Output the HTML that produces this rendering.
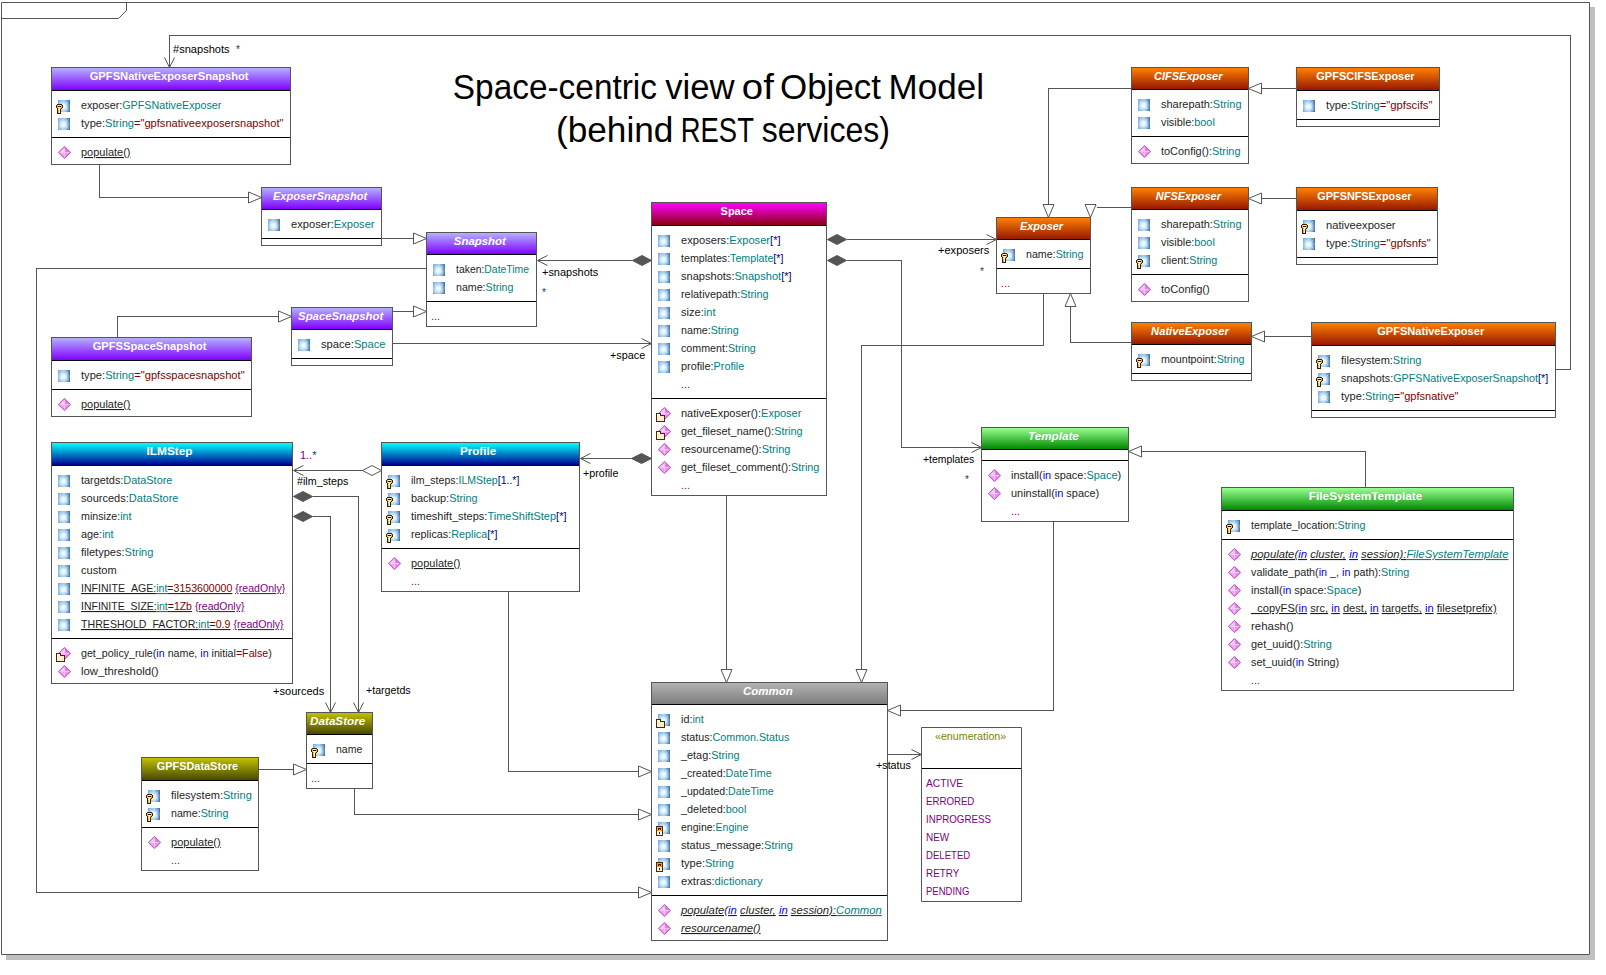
<!DOCTYPE html><html><head><meta charset="utf-8"><style>
html,body{margin:0;padding:0;background:#fff;}
svg{display:block;font-family:"Liberation Sans", sans-serif;font-size:11px;text-decoration-skip-ink:none;}
</style></head><body>
<svg width="1606" height="975" viewBox="0 0 1606 975">
<defs>
<linearGradient id="g_purple" x1="0" y1="0" x2="0" y2="1"><stop offset="0" stop-color="#b4b0ff"/><stop offset="1" stop-color="#8000ff"/></linearGradient>
<linearGradient id="g_magenta" x1="0" y1="0" x2="0" y2="1"><stop offset="0" stop-color="#ff00ff"/><stop offset="1" stop-color="#8a0010"/></linearGradient>
<linearGradient id="g_orange" x1="0" y1="0" x2="0" y2="1"><stop offset="0" stop-color="#ff8000"/><stop offset="1" stop-color="#961800"/></linearGradient>
<linearGradient id="g_green" x1="0" y1="0" x2="0" y2="1"><stop offset="0" stop-color="#98ff90"/><stop offset="1" stop-color="#008800"/></linearGradient>
<linearGradient id="g_blue" x1="0" y1="0" x2="0" y2="1"><stop offset="0" stop-color="#00ffff"/><stop offset="1" stop-color="#000090"/></linearGradient>
<linearGradient id="g_olive" x1="0" y1="0" x2="0" y2="1"><stop offset="0" stop-color="#c0c000"/><stop offset="1" stop-color="#484800"/></linearGradient>
<linearGradient id="g_gray" x1="0" y1="0" x2="0" y2="1"><stop offset="0" stop-color="#b2b2b2"/><stop offset="1" stop-color="#7e7e7e"/></linearGradient>
<radialGradient id="g_ia" cx="0.45" cy="0.55" r="0.6"><stop offset="0" stop-color="#f2ffff"/><stop offset="0.35" stop-color="#dff4fc" stop-opacity="0.95"/><stop offset="1" stop-color="#9cc8ee" stop-opacity="0"/></radialGradient>
<linearGradient id="g_ia2" x1="0" y1="0" x2="1" y2="0"><stop offset="0" stop-color="#74a6dc"/><stop offset="0.5" stop-color="#a8d0f0"/><stop offset="1" stop-color="#3c6aa6"/></linearGradient>
<radialGradient id="g_im" cx="0.42" cy="0.42" r="0.65"><stop offset="0" stop-color="#f6e2f6"/><stop offset="0.45" stop-color="#eeb0ee"/><stop offset="0.8" stop-color="#e070e4"/><stop offset="1" stop-color="#a828b0"/></radialGradient>
<g id="ia"><rect x="0" y="0" width="12" height="12" fill="url(#g_ia2)"/><rect x="0" y="0" width="12" height="12" fill="url(#g_ia)"/><path d="M1.5 1.5L10.5 10.5M10.5 1.5L1.5 10.5" stroke="#f4ffff" stroke-width="1" stroke-opacity="0.45"/></g>
<g id="im"><path d="M6.5 0L13 6.5L6.5 13L0 6.5Z" fill="#c448c8"/><path d="M6.5 1.2L6.5 6.5L1.2 6.5Z" fill="#eed0f0"/><path d="M6.5 1.2L11.8 6.5L6.5 6.5Z" fill="#dc88e0"/><path d="M1.2 6.5L6.5 6.5L6.5 11.8Z" fill="#f0a8f2"/><path d="M11.8 6.5L6.5 6.5L6.5 11.8Z" fill="#ec98ee"/><path d="M6.5 1.5V11.5M1.5 6.5H11.5" stroke="#f8e8f8" stroke-width="0.8" stroke-opacity="0.8"/></g>
<g id="ik" shape-rendering="crispEdges"><rect x="1" y="0" width="5" height="1" fill="#3c2000"/><rect x="0" y="1" width="1" height="3" fill="#3c2000"/><rect x="6" y="1" width="1" height="3" fill="#3c2000"/><rect x="1" y="4" width="1" height="1" fill="#3c2000"/><rect x="5" y="4" width="1" height="1" fill="#3c2000"/><rect x="1" y="5" width="1" height="5" fill="#3c2000"/><rect x="4" y="5" width="1" height="5" fill="#3c2000"/><rect x="1" y="9" width="4" height="1" fill="#3c2000"/><rect x="1" y="1" width="1" height="3" fill="#ffa818"/><rect x="5" y="1" width="1" height="3" fill="#ffa818"/><rect x="2" y="1" width="3" height="3" fill="#fff4d8"/><rect x="2" y="4" width="3" height="1" fill="#ffa818"/><rect x="3" y="4" width="1" height="1" fill="#fff4d8"/><rect x="2" y="5" width="2" height="4" fill="#fff4d8"/><rect x="2" y="6" width="1" height="3" fill="#ffa818"/><rect x="2" y="2" width="3" height="1" fill="#111"/></g>
<g id="if" shape-rendering="crispEdges"><rect x="0" y="0" width="5" height="3" fill="#4a2800"/><rect x="0" y="2" width="9" height="7" fill="#4a2800"/><rect x="1" y="1" width="3" height="2" fill="#fff6e0"/><rect x="1" y="3" width="7" height="5" fill="#ffeccc"/></g>
<g id="il" shape-rendering="crispEdges"><rect x="0" y="0" width="7" height="10" fill="#4a2800"/><rect x="1" y="1" width="5" height="4" fill="#ffa020"/><rect x="1" y="5" width="5" height="4" fill="#fff4e0"/><rect x="2" y="2" width="3" height="2" fill="#222"/><rect x="3" y="2.5" width="1" height="1" fill="#9ad"/><rect x="3" y="6" width="1" height="2" fill="#222"/></g>
</defs>
<rect width="1606" height="975" fill="#fff"/>

<rect x="1590" y="7" width="5" height="953" fill="#c0c0c0"/>
<rect x="6" y="955" width="1589" height="5" fill="#c0c0c0"/>
<path d="M1.5 2.5H1589.5V954.5H1.5Z" fill="none" stroke="#555"/>
<path d="M1.5 18.5H118.5L126.5 10.5V2" fill="none" stroke="#555"/>
<text x="452.8" y="99" textLength="204.2" lengthAdjust="spacingAndGlyphs" style="font-size:35px" fill="#000">Space-centric</text>
<text x="665.2" y="99" textLength="69.4" lengthAdjust="spacingAndGlyphs" style="font-size:35px" fill="#000">view</text>
<text x="741.8" y="99" textLength="32.0" lengthAdjust="spacingAndGlyphs" style="font-size:35px" fill="#000">of</text>
<text x="780.0" y="99" textLength="101.0" lengthAdjust="spacingAndGlyphs" style="font-size:35px" fill="#000">Object</text>
<text x="888.6" y="99" textLength="95.4" lengthAdjust="spacingAndGlyphs" style="font-size:35px" fill="#000">Model</text>
<text x="556.0" y="142" textLength="117.4" lengthAdjust="spacingAndGlyphs" style="font-size:35px" fill="#000">(behind</text>
<text x="680.8" y="142" textLength="73.1" lengthAdjust="spacingAndGlyphs" style="font-size:35px" fill="#000">REST</text>
<text x="761.8" y="142" textLength="128.2" lengthAdjust="spacingAndGlyphs" style="font-size:35px" fill="#000">services)</text>
<path d="M1555.5 369.5 L1570.5 369.5 L1570.5 35.5 L169.5 35.5 L169.5 67.5" fill="none" stroke="#555" shape-rendering="crispEdges"/>
<path d="M164.5 57.5 L169.5 67.5 L174.5 57.5" fill="none" stroke="#555"/>
<path d="M99.5 164.5 L99.5 197.5 L248.5 197.5" fill="none" stroke="#555" shape-rendering="crispEdges"/>
<path d="M261.5 197.5 L248.5 203.0 L248.5 192.0Z" fill="#fff" stroke="#555"/>
<path d="M381.5 238.5 L413.5 238.5" fill="none" stroke="#555" shape-rendering="crispEdges"/>
<path d="M426.5 238.5 L413.5 244.0 L413.5 233.0Z" fill="#fff" stroke="#555"/>
<path d="M392.5 311.5 L413.5 311.5" fill="none" stroke="#555" shape-rendering="crispEdges"/>
<path d="M426.5 311.5 L413.5 317.0 L413.5 306.0Z" fill="#fff" stroke="#555"/>
<path d="M117.5 337.5 L117.5 316.5 L278.5 316.5" fill="none" stroke="#555" shape-rendering="crispEdges"/>
<path d="M291.5 316.5 L278.5 322.0 L278.5 311.0Z" fill="#fff" stroke="#555"/>
<path d="M537.5 260.5 L632.5 260.5" fill="none" stroke="#555" shape-rendering="crispEdges"/>
<path d="M547.5 255.5 L537.5 260.5 L547.5 265.5" fill="none" stroke="#555"/>
<path d="M632.5 260.5 L642.0 255.5 L651.5 260.5 L642.0 265.5 Z" fill="#555" stroke="#555"/>
<path d="M426.5 268.5 L36.5 268.5 L36.5 892.5 L638.5 892.5" fill="none" stroke="#555" shape-rendering="crispEdges"/>
<path d="M651.5 892.5 L638.5 898.0 L638.5 887.0Z" fill="#fff" stroke="#555"/>
<path d="M392.5 343.5 L651.5 343.5" fill="none" stroke="#555" shape-rendering="crispEdges"/>
<path d="M641.5 348.5 L651.5 343.5 L641.5 338.5" fill="none" stroke="#555"/>
<path d="M846.5 239.5 L996.5 239.5" fill="none" stroke="#555" shape-rendering="crispEdges"/>
<path d="M986.5 244.5 L996.5 239.5 L986.5 234.5" fill="none" stroke="#555"/>
<path d="M827.5 239.5 L837.0 234.5 L846.5 239.5 L837.0 244.5 Z" fill="#555" stroke="#555"/>
<path d="M846.5 260.5 L901.5 260.5 L901.5 447.5 L981.5 447.5" fill="none" stroke="#555" shape-rendering="crispEdges"/>
<path d="M971.5 452.5 L981.5 447.5 L971.5 442.5" fill="none" stroke="#555"/>
<path d="M827.5 260.5 L837.0 255.5 L846.5 260.5 L837.0 265.5 Z" fill="#555" stroke="#555"/>
<path d="M580.5 458.5 L631.5 458.5" fill="none" stroke="#555" shape-rendering="crispEdges"/>
<path d="M590.5 453.5 L580.5 458.5 L590.5 463.5" fill="none" stroke="#555"/>
<path d="M631.5 458.5 L641.5 453.5 L651.5 458.5 L641.5 463.5 Z" fill="#555" stroke="#555"/>
<path d="M726.5 495.5 L726.5 669.5" fill="none" stroke="#555" shape-rendering="crispEdges"/>
<path d="M726.5 682.5 L721.0 669.5 L732.0 669.5Z" fill="#fff" stroke="#555"/>
<path d="M1043.5 293.5 L1043.5 345.5 L861.5 345.5 L861.5 669.5" fill="none" stroke="#555" shape-rendering="crispEdges"/>
<path d="M861.5 682.5 L856.0 669.5 L867.0 669.5Z" fill="#fff" stroke="#555"/>
<path d="M1131.5 88.5 L1048.5 88.5 L1048.5 204.5" fill="none" stroke="#555" shape-rendering="crispEdges"/>
<path d="M1048.5 217.5 L1043.0 204.5 L1054.0 204.5Z" fill="#fff" stroke="#555"/>
<path d="M1131.5 207.5 L1096.5 207.5" fill="none" stroke="#555" shape-rendering="crispEdges"/>
<path d="M1090.5 217.5 L1085.0 204.5 L1096.0 204.5Z" fill="#fff" stroke="#555"/>
<path d="M1131.5 342.5 L1070.5 342.5 L1070.5 306.5" fill="none" stroke="#555" shape-rendering="crispEdges"/>
<path d="M1070.5 293.5 L1076.0 306.5 L1065.0 306.5Z" fill="#fff" stroke="#555"/>
<path d="M1296.5 88.5 L1261.5 88.5" fill="none" stroke="#555" shape-rendering="crispEdges"/>
<path d="M1248.5 88.5 L1261.5 83.0 L1261.5 94.0Z" fill="#fff" stroke="#555"/>
<path d="M1296.5 198.5 L1261.5 198.5" fill="none" stroke="#555" shape-rendering="crispEdges"/>
<path d="M1248.5 198.5 L1261.5 193.0 L1261.5 204.0Z" fill="#fff" stroke="#555"/>
<path d="M1311.5 336.5 L1264.5 336.5" fill="none" stroke="#555" shape-rendering="crispEdges"/>
<path d="M1251.5 336.5 L1264.5 331.0 L1264.5 342.0Z" fill="#fff" stroke="#555"/>
<path d="M1365.5 487.5 L1365.5 451.5 L1141.5 451.5" fill="none" stroke="#555" shape-rendering="crispEdges"/>
<path d="M1128.5 451.5 L1141.5 446.0 L1141.5 457.0Z" fill="#fff" stroke="#555"/>
<path d="M1053.5 521.5 L1053.5 710.5 L900.5 710.5" fill="none" stroke="#555" shape-rendering="crispEdges"/>
<path d="M887.5 710.5 L900.5 705.0 L900.5 716.0Z" fill="#fff" stroke="#555"/>
<path d="M887.5 754.5 L921.5 754.5" fill="none" stroke="#555" shape-rendering="crispEdges"/>
<path d="M911.5 759.5 L921.5 754.5 L911.5 749.5" fill="none" stroke="#555"/>
<path d="M293.5 470.5 L362.5 470.5" fill="none" stroke="#555" shape-rendering="crispEdges"/>
<path d="M303.5 465.5 L293.5 470.5 L303.5 475.5" fill="none" stroke="#555"/>
<path d="M362.5 470.5 L372.0 465.5 L381.5 470.5 L372.0 475.5 Z" fill="#fff" stroke="#555"/>
<path d="M312.5 496.5 L358.5 496.5 L358.5 712.5" fill="none" stroke="#555" shape-rendering="crispEdges"/>
<path d="M353.5 702.5 L358.5 712.5 L363.5 702.5" fill="none" stroke="#555"/>
<path d="M293.5 496.5 L303.0 491.5 L312.5 496.5 L303.0 501.5 Z" fill="#555" stroke="#555"/>
<path d="M312.5 516.5 L330.5 516.5 L330.5 712.5" fill="none" stroke="#555" shape-rendering="crispEdges"/>
<path d="M325.5 702.5 L330.5 712.5 L335.5 702.5" fill="none" stroke="#555"/>
<path d="M293.5 516.5 L303.0 511.5 L312.5 516.5 L303.0 521.5 Z" fill="#555" stroke="#555"/>
<path d="M508.5 591.5 L508.5 771.5 L638.5 771.5" fill="none" stroke="#555" shape-rendering="crispEdges"/>
<path d="M651.5 771.5 L638.5 777.0 L638.5 766.0Z" fill="#fff" stroke="#555"/>
<path d="M258.5 769.5 L293.5 769.5" fill="none" stroke="#555" shape-rendering="crispEdges"/>
<path d="M306.5 769.5 L293.5 775.0 L293.5 764.0Z" fill="#fff" stroke="#555"/>
<path d="M354.5 788.5 L354.5 814.5 L638.5 814.5" fill="none" stroke="#555" shape-rendering="crispEdges"/>
<path d="M651.5 814.5 L638.5 820.0 L638.5 809.0Z" fill="#fff" stroke="#555"/>
<rect x="51" y="67" width="239" height="97" fill="#fff"/>
<rect x="52" y="68" width="238" height="22" fill="url(#g_purple)"/>
<text x="89.7" y="80" fill="#fff" style="font-weight:bold;" textLength="158.9" lengthAdjust="spacingAndGlyphs">GPFSNativeExposerSnapshot</text>
<path d="M51.5 67.5H290.5V164.5H51.5Z" fill="none" stroke="#555" shape-rendering="crispEdges"/>
<path d="M52 90.5H290" stroke="#000"/>
<path d="M52 137.5H290" stroke="#000"/>
<use href="#ia" x="58" y="100"/><use href="#ik" x="56" y="104"/>
<text x="81" y="109" textLength="140.4" lengthAdjust="spacingAndGlyphs"><tspan fill="#1e1e1e">exposer:</tspan><tspan fill="#008080">GPFSNativeExposer</tspan></text>
<use href="#ia" x="58" y="118"/>
<text x="81" y="127" textLength="202.4" lengthAdjust="spacingAndGlyphs"><tspan fill="#1e1e1e">type:</tspan><tspan fill="#008080">String</tspan><tspan fill="#800000">="gpfsnativeexposersnapshot"</tspan></text>
<use href="#im" x="58" y="146"/>
<text x="81" y="156" style="" textLength="49.5" lengthAdjust="spacingAndGlyphs"><tspan fill="#1e1e1e" text-decoration="underline">populate()</tspan></text>
<rect x="261" y="187" width="120" height="58" fill="#fff"/>
<rect x="262" y="188" width="119" height="21" fill="url(#g_purple)"/>
<text x="272.9" y="200" fill="#fff" style="font-weight:bold;font-style:italic;" textLength="94.3" lengthAdjust="spacingAndGlyphs">ExposerSnapshot</text>
<path d="M261.5 187.5H381.5V245.5H261.5Z" fill="none" stroke="#555" shape-rendering="crispEdges"/>
<path d="M262 209.5H381" stroke="#000"/>
<path d="M262 238.5H381" stroke="#000"/>
<use href="#ia" x="268" y="219"/>
<text x="291" y="228" textLength="83.6" lengthAdjust="spacingAndGlyphs"><tspan fill="#1e1e1e">exposer:</tspan><tspan fill="#008080">Exposer</tspan></text>
<rect x="426" y="232" width="110" height="94" fill="#fff"/>
<rect x="427" y="233" width="109" height="21" fill="url(#g_purple)"/>
<text x="453.8" y="245" fill="#fff" style="font-weight:bold;font-style:italic;" textLength="52.1" lengthAdjust="spacingAndGlyphs">Snapshot</text>
<path d="M426.5 232.5H536.5V326.5H426.5Z" fill="none" stroke="#555" shape-rendering="crispEdges"/>
<path d="M427 254.5H536" stroke="#000"/>
<path d="M427 301.5H536" stroke="#000"/>
<use href="#ia" x="433" y="264"/>
<text x="456" y="273" textLength="73.1" lengthAdjust="spacingAndGlyphs"><tspan fill="#1e1e1e">taken:</tspan><tspan fill="#008080">DateTime</tspan></text>
<use href="#ia" x="433" y="282"/>
<text x="456" y="291" textLength="57.4" lengthAdjust="spacingAndGlyphs"><tspan fill="#1e1e1e">name:</tspan><tspan fill="#008080">String</tspan></text>
<text x="431" y="320" style=""><tspan fill="#800080">...</tspan></text>
<rect x="291" y="307" width="101" height="58" fill="#fff"/>
<rect x="292" y="308" width="100" height="21" fill="url(#g_purple)"/>
<text x="298.1" y="320" fill="#fff" style="font-weight:bold;font-style:italic;" textLength="85.1" lengthAdjust="spacingAndGlyphs">SpaceSnapshot</text>
<path d="M291.5 307.5H392.5V365.5H291.5Z" fill="none" stroke="#555" shape-rendering="crispEdges"/>
<path d="M292 329.5H392" stroke="#000"/>
<path d="M292 358.5H392" stroke="#000"/>
<use href="#ia" x="298" y="339"/>
<text x="321" y="348" textLength="64.6" lengthAdjust="spacingAndGlyphs"><tspan fill="#1e1e1e">space:</tspan><tspan fill="#008080">Space</tspan></text>
<rect x="51" y="337" width="200" height="79" fill="#fff"/>
<rect x="52" y="338" width="199" height="22" fill="url(#g_purple)"/>
<text x="92.7" y="350" fill="#fff" style="font-weight:bold;" textLength="113.9" lengthAdjust="spacingAndGlyphs">GPFSSpaceSnapshot</text>
<path d="M51.5 337.5H251.5V416.5H51.5Z" fill="none" stroke="#555" shape-rendering="crispEdges"/>
<path d="M52 360.5H251" stroke="#000"/>
<path d="M52 389.5H251" stroke="#000"/>
<use href="#ia" x="58" y="370"/>
<text x="81" y="379" textLength="163.6" lengthAdjust="spacingAndGlyphs"><tspan fill="#1e1e1e">type:</tspan><tspan fill="#008080">String</tspan><tspan fill="#800000">="gpfsspacesnapshot"</tspan></text>
<use href="#im" x="58" y="398"/>
<text x="81" y="408" style="" textLength="49.4" lengthAdjust="spacingAndGlyphs"><tspan fill="#1e1e1e" text-decoration="underline">populate()</tspan></text>
<rect x="651" y="202" width="175" height="293" fill="#fff"/>
<rect x="652" y="203" width="174" height="22" fill="url(#g_magenta)"/>
<text x="720.6" y="215" fill="#fff" style="font-weight:bold;" textLength="32.3" lengthAdjust="spacingAndGlyphs">Space</text>
<path d="M651.5 202.5H826.5V495.5H651.5Z" fill="none" stroke="#555" shape-rendering="crispEdges"/>
<path d="M652 225.5H826" stroke="#000"/>
<path d="M652 398.5H826" stroke="#000"/>
<use href="#ia" x="658" y="235"/>
<text x="681" y="244" textLength="99.6" lengthAdjust="spacingAndGlyphs"><tspan fill="#1e1e1e">exposers:</tspan><tspan fill="#008080">Exposer</tspan><tspan fill="#000080">[*]</tspan></text>
<use href="#ia" x="658" y="253"/>
<text x="681" y="262" textLength="102.4" lengthAdjust="spacingAndGlyphs"><tspan fill="#1e1e1e">templates:</tspan><tspan fill="#008080">Template</tspan><tspan fill="#000080">[*]</tspan></text>
<use href="#ia" x="658" y="271"/>
<text x="681" y="280" textLength="110.6" lengthAdjust="spacingAndGlyphs"><tspan fill="#1e1e1e">snapshots:</tspan><tspan fill="#008080">Snapshot</tspan><tspan fill="#000080">[*]</tspan></text>
<use href="#ia" x="658" y="289"/>
<text x="681" y="298" textLength="87.6" lengthAdjust="spacingAndGlyphs"><tspan fill="#1e1e1e">relativepath:</tspan><tspan fill="#008080">String</tspan></text>
<use href="#ia" x="658" y="307"/>
<text x="681" y="316" textLength="34.6" lengthAdjust="spacingAndGlyphs"><tspan fill="#1e1e1e">size:</tspan><tspan fill="#008080">int</tspan></text>
<use href="#ia" x="658" y="325"/>
<text x="681" y="334" textLength="57.6" lengthAdjust="spacingAndGlyphs"><tspan fill="#1e1e1e">name:</tspan><tspan fill="#008080">String</tspan></text>
<use href="#ia" x="658" y="343"/>
<text x="681" y="352" textLength="74.8" lengthAdjust="spacingAndGlyphs"><tspan fill="#1e1e1e">comment:</tspan><tspan fill="#008080">String</tspan></text>
<use href="#ia" x="658" y="361"/>
<text x="681" y="370" textLength="63.3" lengthAdjust="spacingAndGlyphs"><tspan fill="#1e1e1e">profile:</tspan><tspan fill="#008080">Profile</tspan></text>
<text x="681" y="388"><tspan fill="#800080">...</tspan></text>
<use href="#im" x="658" y="407"/><use href="#if" x="656" y="413"/>
<text x="681" y="417" style="" textLength="120.4" lengthAdjust="spacingAndGlyphs"><tspan fill="#1e1e1e">nativeExposer():</tspan><tspan fill="#008080">Exposer</tspan></text>
<use href="#im" x="658" y="425"/><use href="#if" x="656" y="431"/>
<text x="681" y="435" style="" textLength="121.6" lengthAdjust="spacingAndGlyphs"><tspan fill="#1e1e1e">get_fileset_name():</tspan><tspan fill="#008080">String</tspan></text>
<use href="#im" x="658" y="443"/>
<text x="681" y="453" style="" textLength="109.4" lengthAdjust="spacingAndGlyphs"><tspan fill="#1e1e1e">resourcename():</tspan><tspan fill="#008080">String</tspan></text>
<use href="#im" x="658" y="461"/>
<text x="681" y="471" style="" textLength="138.4" lengthAdjust="spacingAndGlyphs"><tspan fill="#1e1e1e">get_fileset_comment():</tspan><tspan fill="#008080">String</tspan></text>
<text x="681" y="489" style=""><tspan fill="#800080">...</tspan></text>
<rect x="996" y="217" width="94" height="76" fill="#fff"/>
<rect x="997" y="218" width="93" height="21" fill="url(#g_orange)"/>
<text x="1020.0" y="230" fill="#fff" style="font-weight:bold;font-style:italic;" textLength="43.0" lengthAdjust="spacingAndGlyphs">Exposer</text>
<path d="M996.5 217.5H1090.5V293.5H996.5Z" fill="none" stroke="#555" shape-rendering="crispEdges"/>
<path d="M997 239.5H1090" stroke="#000"/>
<path d="M997 268.5H1090" stroke="#000"/>
<use href="#ia" x="1003" y="249"/><use href="#ik" x="1001" y="253"/>
<text x="1026" y="258" textLength="57.5" lengthAdjust="spacingAndGlyphs"><tspan fill="#1e1e1e">name:</tspan><tspan fill="#008080">String</tspan></text>
<text x="1001" y="287" style=""><tspan fill="#800080">...</tspan></text>
<rect x="1131" y="67" width="117" height="96" fill="#fff"/>
<rect x="1132" y="68" width="116" height="21" fill="url(#g_orange)"/>
<text x="1154.0" y="80" fill="#fff" style="font-weight:bold;font-style:italic;" textLength="68.5" lengthAdjust="spacingAndGlyphs">CIFSExposer</text>
<path d="M1131.5 67.5H1248.5V163.5H1131.5Z" fill="none" stroke="#555" shape-rendering="crispEdges"/>
<path d="M1132 89.5H1248" stroke="#000"/>
<path d="M1132 136.5H1248" stroke="#000"/>
<use href="#ia" x="1138" y="99"/>
<text x="1161" y="108" textLength="80.5" lengthAdjust="spacingAndGlyphs"><tspan fill="#1e1e1e">sharepath:</tspan><tspan fill="#008080">String</tspan></text>
<use href="#ia" x="1138" y="117"/>
<text x="1161" y="126" textLength="53.8" lengthAdjust="spacingAndGlyphs"><tspan fill="#1e1e1e">visible:</tspan><tspan fill="#008080">bool</tspan></text>
<use href="#im" x="1138" y="145"/>
<text x="1161" y="155" style="" textLength="79.5" lengthAdjust="spacingAndGlyphs"><tspan fill="#1e1e1e">toConfig():</tspan><tspan fill="#008080">String</tspan></text>
<rect x="1296" y="67" width="143" height="59" fill="#fff"/>
<rect x="1297" y="68" width="142" height="22" fill="url(#g_orange)"/>
<text x="1316.3" y="80" fill="#fff" style="font-weight:bold;" textLength="98.3" lengthAdjust="spacingAndGlyphs">GPFSCIFSExposer</text>
<path d="M1296.5 67.5H1439.5V126.5H1296.5Z" fill="none" stroke="#555" shape-rendering="crispEdges"/>
<path d="M1297 90.5H1439" stroke="#000"/>
<path d="M1297 119.5H1439" stroke="#000"/>
<use href="#ia" x="1303" y="100"/>
<text x="1326" y="109" textLength="106.5" lengthAdjust="spacingAndGlyphs"><tspan fill="#1e1e1e">type:</tspan><tspan fill="#008080">String</tspan><tspan fill="#800000">="gpfscifs"</tspan></text>
<rect x="1131" y="187" width="117" height="114" fill="#fff"/>
<rect x="1132" y="188" width="116" height="21" fill="url(#g_orange)"/>
<text x="1155.8" y="200" fill="#fff" style="font-weight:bold;font-style:italic;" textLength="65.2" lengthAdjust="spacingAndGlyphs">NFSExposer</text>
<path d="M1131.5 187.5H1248.5V301.5H1131.5Z" fill="none" stroke="#555" shape-rendering="crispEdges"/>
<path d="M1132 209.5H1248" stroke="#000"/>
<path d="M1132 274.5H1248" stroke="#000"/>
<use href="#ia" x="1138" y="219"/>
<text x="1161" y="228" textLength="80.5" lengthAdjust="spacingAndGlyphs"><tspan fill="#1e1e1e">sharepath:</tspan><tspan fill="#008080">String</tspan></text>
<use href="#ia" x="1138" y="237"/>
<text x="1161" y="246" textLength="53.8" lengthAdjust="spacingAndGlyphs"><tspan fill="#1e1e1e">visible:</tspan><tspan fill="#008080">bool</tspan></text>
<use href="#ia" x="1138" y="255"/><use href="#ik" x="1136" y="259"/>
<text x="1161" y="264" textLength="56.4" lengthAdjust="spacingAndGlyphs"><tspan fill="#1e1e1e">client:</tspan><tspan fill="#008080">String</tspan></text>
<use href="#im" x="1138" y="283"/>
<text x="1161" y="293" style="" textLength="48.7" lengthAdjust="spacingAndGlyphs"><tspan fill="#1e1e1e">toConfig()</tspan></text>
<rect x="1296" y="187" width="141" height="77" fill="#fff"/>
<rect x="1297" y="188" width="140" height="22" fill="url(#g_orange)"/>
<text x="1317.3" y="200" fill="#fff" style="font-weight:bold;" textLength="94.2" lengthAdjust="spacingAndGlyphs">GPFSNFSExposer</text>
<path d="M1296.5 187.5H1437.5V264.5H1296.5Z" fill="none" stroke="#555" shape-rendering="crispEdges"/>
<path d="M1297 210.5H1437" stroke="#000"/>
<path d="M1297 257.5H1437" stroke="#000"/>
<use href="#ia" x="1303" y="220"/><use href="#ik" x="1301" y="224"/>
<text x="1326" y="229" textLength="69.6" lengthAdjust="spacingAndGlyphs"><tspan fill="#1e1e1e">nativeexposer</tspan></text>
<use href="#ia" x="1303" y="238"/>
<text x="1326" y="247" textLength="104.7" lengthAdjust="spacingAndGlyphs"><tspan fill="#1e1e1e">type:</tspan><tspan fill="#008080">String</tspan><tspan fill="#800000">="gpfsnfs"</tspan></text>
<rect x="1131" y="322" width="120" height="58" fill="#fff"/>
<rect x="1132" y="323" width="119" height="21" fill="url(#g_orange)"/>
<text x="1151.1" y="335" fill="#fff" style="font-weight:bold;font-style:italic;" textLength="77.7" lengthAdjust="spacingAndGlyphs">NativeExposer</text>
<path d="M1131.5 322.5H1251.5V380.5H1131.5Z" fill="none" stroke="#555" shape-rendering="crispEdges"/>
<path d="M1132 344.5H1251" stroke="#000"/>
<path d="M1132 373.5H1251" stroke="#000"/>
<use href="#ia" x="1138" y="354"/><use href="#ik" x="1136" y="358"/>
<text x="1161" y="363" textLength="83.5" lengthAdjust="spacingAndGlyphs"><tspan fill="#1e1e1e">mountpoint:</tspan><tspan fill="#008080">String</tspan></text>
<rect x="1311" y="322" width="244" height="95" fill="#fff"/>
<rect x="1312" y="323" width="243" height="22" fill="url(#g_orange)"/>
<text x="1377.2" y="335" fill="#fff" style="font-weight:bold;" textLength="107.0" lengthAdjust="spacingAndGlyphs">GPFSNativeExposer</text>
<path d="M1311.5 322.5H1555.5V417.5H1311.5Z" fill="none" stroke="#555" shape-rendering="crispEdges"/>
<path d="M1312 345.5H1555" stroke="#000"/>
<path d="M1312 410.5H1555" stroke="#000"/>
<use href="#ia" x="1318" y="355"/><use href="#ik" x="1316" y="359"/>
<text x="1341" y="364" textLength="80.5" lengthAdjust="spacingAndGlyphs"><tspan fill="#1e1e1e">filesystem:</tspan><tspan fill="#008080">String</tspan></text>
<use href="#ia" x="1318" y="373"/><use href="#ik" x="1316" y="377"/>
<text x="1341" y="382" textLength="207.3" lengthAdjust="spacingAndGlyphs"><tspan fill="#1e1e1e">snapshots:</tspan><tspan fill="#008080">GPFSNativeExposerSnapshot</tspan><tspan fill="#000080">[*]</tspan></text>
<use href="#ia" x="1318" y="391"/>
<text x="1341" y="400" textLength="117.5" lengthAdjust="spacingAndGlyphs"><tspan fill="#1e1e1e">type:</tspan><tspan fill="#008080">String</tspan><tspan fill="#800000">="gpfsnative"</tspan></text>
<rect x="981" y="427" width="147" height="94" fill="#fff"/>
<rect x="982" y="428" width="146" height="21" fill="url(#g_green)"/>
<text x="1028.1" y="440" fill="#fff" style="font-weight:bold;font-style:italic;" textLength="50.7" lengthAdjust="spacingAndGlyphs">Template</text>
<path d="M981.5 427.5H1128.5V521.5H981.5Z" fill="none" stroke="#555" shape-rendering="crispEdges"/>
<path d="M982 449.5H1128" stroke="#000"/>
<path d="M982 460.5H1128" stroke="#000"/>
<use href="#im" x="988" y="469"/>
<text x="1011" y="479" style="" textLength="110.2" lengthAdjust="spacingAndGlyphs"><tspan fill="#1e1e1e">install(</tspan><tspan fill="#0000ff">in</tspan><tspan fill="#1e1e1e"> space:</tspan><tspan fill="#008080">Space</tspan><tspan fill="#1e1e1e">)</tspan></text>
<use href="#im" x="988" y="487"/>
<text x="1011" y="497" style="" textLength="88.2" lengthAdjust="spacingAndGlyphs"><tspan fill="#1e1e1e">uninstall(</tspan><tspan fill="#0000ff">in</tspan><tspan fill="#1e1e1e"> space)</tspan></text>
<text x="1011" y="515" style=""><tspan fill="#800080">...</tspan></text>
<rect x="1221" y="487" width="292" height="203" fill="#fff"/>
<rect x="1222" y="488" width="291" height="22" fill="url(#g_green)"/>
<text x="1308.8" y="500" fill="#fff" style="font-weight:bold;" textLength="113.5" lengthAdjust="spacingAndGlyphs">FileSystemTemplate</text>
<path d="M1221.5 487.5H1513.5V690.5H1221.5Z" fill="none" stroke="#555" shape-rendering="crispEdges"/>
<path d="M1222 510.5H1513" stroke="#000"/>
<path d="M1222 539.5H1513" stroke="#000"/>
<use href="#ia" x="1228" y="520"/><use href="#ik" x="1226" y="524"/>
<text x="1251" y="529" textLength="114.4" lengthAdjust="spacingAndGlyphs"><tspan fill="#1e1e1e">template_location:</tspan><tspan fill="#008080">String</tspan></text>
<use href="#im" x="1228" y="548"/>
<text x="1251" y="558" style="font-style:italic;" textLength="257.5" lengthAdjust="spacingAndGlyphs"><tspan fill="#1e1e1e" text-decoration="underline">populate(</tspan><tspan fill="#0000ff" text-decoration="underline">in</tspan><tspan fill="#1e1e1e"> </tspan><tspan fill="#1e1e1e" text-decoration="underline">cluster,</tspan><tspan fill="#1e1e1e"> </tspan><tspan fill="#0000ff" text-decoration="underline">in</tspan><tspan fill="#1e1e1e"> </tspan><tspan fill="#1e1e1e" text-decoration="underline">session):</tspan><tspan fill="#008080" text-decoration="underline">FileSystemTemplate</tspan></text>
<use href="#im" x="1228" y="566"/>
<text x="1251" y="576" style="" textLength="158.2" lengthAdjust="spacingAndGlyphs"><tspan fill="#1e1e1e">validate_path(</tspan><tspan fill="#0000ff">in</tspan><tspan fill="#1e1e1e"> _, </tspan><tspan fill="#0000ff">in</tspan><tspan fill="#1e1e1e"> path):</tspan><tspan fill="#008080">String</tspan></text>
<use href="#im" x="1228" y="584"/>
<text x="1251" y="594" style="" textLength="110.4" lengthAdjust="spacingAndGlyphs"><tspan fill="#1e1e1e">install(</tspan><tspan fill="#0000ff">in</tspan><tspan fill="#1e1e1e"> space:</tspan><tspan fill="#008080">Space</tspan><tspan fill="#1e1e1e">)</tspan></text>
<use href="#im" x="1228" y="602"/>
<text x="1251" y="612" style="" textLength="245.6" lengthAdjust="spacingAndGlyphs"><tspan fill="#1e1e1e" text-decoration="underline">_copyFS(</tspan><tspan fill="#0000ff" text-decoration="underline">in</tspan><tspan fill="#1e1e1e"> </tspan><tspan fill="#1e1e1e" text-decoration="underline">src,</tspan><tspan fill="#1e1e1e"> </tspan><tspan fill="#0000ff" text-decoration="underline">in</tspan><tspan fill="#1e1e1e"> </tspan><tspan fill="#1e1e1e" text-decoration="underline">dest,</tspan><tspan fill="#1e1e1e"> </tspan><tspan fill="#0000ff" text-decoration="underline">in</tspan><tspan fill="#1e1e1e"> </tspan><tspan fill="#1e1e1e" text-decoration="underline">targetfs,</tspan><tspan fill="#1e1e1e"> </tspan><tspan fill="#0000ff" text-decoration="underline">in</tspan><tspan fill="#1e1e1e"> </tspan><tspan fill="#1e1e1e" text-decoration="underline">filesetprefix)</tspan></text>
<use href="#im" x="1228" y="620"/>
<text x="1251" y="630" style="" textLength="42.6" lengthAdjust="spacingAndGlyphs"><tspan fill="#1e1e1e">rehash()</tspan></text>
<use href="#im" x="1228" y="638"/>
<text x="1251" y="648" style="" textLength="80.8" lengthAdjust="spacingAndGlyphs"><tspan fill="#1e1e1e">get_uuid():</tspan><tspan fill="#008080">String</tspan></text>
<use href="#im" x="1228" y="656"/>
<text x="1251" y="666" style="" textLength="88.2" lengthAdjust="spacingAndGlyphs"><tspan fill="#1e1e1e">set_uuid(</tspan><tspan fill="#0000ff">in</tspan><tspan fill="#1e1e1e"> String)</tspan></text>
<text x="1251" y="684" style=""><tspan fill="#800080">...</tspan></text>
<rect x="51" y="442" width="241" height="241" fill="#fff"/>
<rect x="52" y="443" width="240" height="22" fill="url(#g_blue)"/>
<text x="146.5" y="455" fill="#fff" style="font-weight:bold;" textLength="46.1" lengthAdjust="spacingAndGlyphs">ILMStep</text>
<path d="M51.5 442.5H292.5V683.5H51.5Z" fill="none" stroke="#555" shape-rendering="crispEdges"/>
<path d="M52 465.5H292" stroke="#000"/>
<path d="M52 638.5H292" stroke="#000"/>
<use href="#ia" x="58" y="475"/>
<text x="81" y="484" textLength="91.4" lengthAdjust="spacingAndGlyphs"><tspan fill="#1e1e1e">targetds:</tspan><tspan fill="#008080">DataStore</tspan></text>
<use href="#ia" x="58" y="493"/>
<text x="81" y="502" textLength="97.5" lengthAdjust="spacingAndGlyphs"><tspan fill="#1e1e1e">sourceds:</tspan><tspan fill="#008080">DataStore</tspan></text>
<use href="#ia" x="58" y="511"/>
<text x="81" y="520" textLength="50.4" lengthAdjust="spacingAndGlyphs"><tspan fill="#1e1e1e">minsize:</tspan><tspan fill="#008080">int</tspan></text>
<use href="#ia" x="58" y="529"/>
<text x="81" y="538" textLength="32.6" lengthAdjust="spacingAndGlyphs"><tspan fill="#1e1e1e">age:</tspan><tspan fill="#008080">int</tspan></text>
<use href="#ia" x="58" y="547"/>
<text x="81" y="556" textLength="72.4" lengthAdjust="spacingAndGlyphs"><tspan fill="#1e1e1e">filetypes:</tspan><tspan fill="#008080">String</tspan></text>
<use href="#ia" x="58" y="565"/>
<text x="81" y="574" textLength="35.7" lengthAdjust="spacingAndGlyphs"><tspan fill="#1e1e1e">custom</tspan></text>
<use href="#ia" x="58" y="583"/>
<text x="81" y="592" textLength="204.2" lengthAdjust="spacingAndGlyphs"><tspan fill="#1e1e1e" text-decoration="underline">INFINITE_AGE:</tspan><tspan fill="#008080" text-decoration="underline">int</tspan><tspan fill="#800000" text-decoration="underline">=3153600000</tspan><tspan fill="#1e1e1e"> </tspan><tspan fill="#800080" text-decoration="underline">{readOnly}</tspan></text>
<use href="#ia" x="58" y="601"/>
<text x="81" y="610" textLength="163.4" lengthAdjust="spacingAndGlyphs"><tspan fill="#1e1e1e" text-decoration="underline">INFINITE_SIZE:</tspan><tspan fill="#008080" text-decoration="underline">int</tspan><tspan fill="#800000" text-decoration="underline">=1Zb</tspan><tspan fill="#1e1e1e"> </tspan><tspan fill="#800080" text-decoration="underline">{readOnly}</tspan></text>
<use href="#ia" x="58" y="619"/>
<text x="81" y="628" textLength="202.6" lengthAdjust="spacingAndGlyphs"><tspan fill="#1e1e1e" text-decoration="underline">THRESHOLD_FACTOR:</tspan><tspan fill="#008080" text-decoration="underline">int</tspan><tspan fill="#800000" text-decoration="underline">=0.9</tspan><tspan fill="#1e1e1e"> </tspan><tspan fill="#800080" text-decoration="underline">{readOnly}</tspan></text>
<use href="#im" x="58" y="647"/><use href="#if" x="56" y="653"/>
<text x="81" y="657" style="" textLength="190.8" lengthAdjust="spacingAndGlyphs"><tspan fill="#1e1e1e">get_policy_rule(</tspan><tspan fill="#0000ff">in</tspan><tspan fill="#1e1e1e"> name, </tspan><tspan fill="#0000ff">in</tspan><tspan fill="#1e1e1e"> initial</tspan><tspan fill="#800000">=False</tspan><tspan fill="#1e1e1e">)</tspan></text>
<use href="#im" x="58" y="665"/>
<text x="81" y="675" style="" textLength="77.6" lengthAdjust="spacingAndGlyphs"><tspan fill="#1e1e1e">low_threshold()</tspan></text>
<rect x="381" y="442" width="198" height="149" fill="#fff"/>
<rect x="382" y="443" width="197" height="22" fill="url(#g_blue)"/>
<text x="459.9" y="455" fill="#fff" style="font-weight:bold;" textLength="36.3" lengthAdjust="spacingAndGlyphs">Profile</text>
<path d="M381.5 442.5H579.5V591.5H381.5Z" fill="none" stroke="#555" shape-rendering="crispEdges"/>
<path d="M382 465.5H579" stroke="#000"/>
<path d="M382 548.5H579" stroke="#000"/>
<use href="#ia" x="388" y="475"/><use href="#ik" x="386" y="479"/>
<text x="411" y="484" textLength="108.4" lengthAdjust="spacingAndGlyphs"><tspan fill="#1e1e1e">ilm_steps:</tspan><tspan fill="#008080">ILMStep</tspan><tspan fill="#000080">[1..*]</tspan></text>
<use href="#ia" x="388" y="493"/><use href="#ik" x="386" y="497"/>
<text x="411" y="502" textLength="66.6" lengthAdjust="spacingAndGlyphs"><tspan fill="#1e1e1e">backup:</tspan><tspan fill="#008080">String</tspan></text>
<use href="#ia" x="388" y="511"/><use href="#ik" x="386" y="515"/>
<text x="411" y="520" textLength="155.5" lengthAdjust="spacingAndGlyphs"><tspan fill="#1e1e1e">timeshift_steps:</tspan><tspan fill="#008080">TimeShiftStep</tspan><tspan fill="#000080">[*]</tspan></text>
<use href="#ia" x="388" y="529"/><use href="#ik" x="386" y="533"/>
<text x="411" y="538" textLength="86.4" lengthAdjust="spacingAndGlyphs"><tspan fill="#1e1e1e">replicas:</tspan><tspan fill="#008080">Replica</tspan><tspan fill="#000080">[*]</tspan></text>
<use href="#im" x="388" y="557"/>
<text x="411" y="567" style="" textLength="49.5" lengthAdjust="spacingAndGlyphs"><tspan fill="#1e1e1e" text-decoration="underline">populate()</tspan></text>
<text x="411" y="585" style=""><tspan fill="#800080">...</tspan></text>
<rect x="306" y="712" width="66" height="76" fill="#fff"/>
<rect x="307" y="713" width="65" height="21" fill="url(#g_olive)"/>
<text x="310.1" y="725" fill="#fff" style="font-weight:bold;font-style:italic;" textLength="55.1" lengthAdjust="spacingAndGlyphs">DataStore</text>
<path d="M306.5 712.5H372.5V788.5H306.5Z" fill="none" stroke="#555" shape-rendering="crispEdges"/>
<path d="M307 734.5H372" stroke="#000"/>
<path d="M307 763.5H372" stroke="#000"/>
<use href="#ia" x="313" y="744"/><use href="#ik" x="311" y="748"/>
<text x="336" y="753" textLength="26.3" lengthAdjust="spacingAndGlyphs"><tspan fill="#1e1e1e">name</tspan></text>
<text x="311" y="782" style=""><tspan fill="#800080">...</tspan></text>
<rect x="141" y="757" width="117" height="113" fill="#fff"/>
<rect x="142" y="758" width="116" height="22" fill="url(#g_olive)"/>
<text x="156.8" y="770" fill="#fff" style="font-weight:bold;" textLength="81.2" lengthAdjust="spacingAndGlyphs">GPFSDataStore</text>
<path d="M141.5 757.5H258.5V870.5H141.5Z" fill="none" stroke="#555" shape-rendering="crispEdges"/>
<path d="M142 780.5H258" stroke="#000"/>
<path d="M142 827.5H258" stroke="#000"/>
<use href="#ia" x="148" y="790"/><use href="#ik" x="146" y="794"/>
<text x="171" y="799" textLength="80.8" lengthAdjust="spacingAndGlyphs"><tspan fill="#1e1e1e">filesystem:</tspan><tspan fill="#008080">String</tspan></text>
<use href="#ia" x="148" y="808"/><use href="#ik" x="146" y="812"/>
<text x="171" y="817" textLength="57.5" lengthAdjust="spacingAndGlyphs"><tspan fill="#1e1e1e">name:</tspan><tspan fill="#008080">String</tspan></text>
<use href="#im" x="148" y="836"/>
<text x="171" y="846" style="" textLength="49.7" lengthAdjust="spacingAndGlyphs"><tspan fill="#1e1e1e" text-decoration="underline">populate()</tspan></text>
<text x="171" y="864" style=""><tspan fill="#800080">...</tspan></text>
<rect x="651" y="682" width="236" height="258" fill="#fff"/>
<rect x="652" y="683" width="235" height="21" fill="url(#g_gray)"/>
<text x="742.9" y="695" fill="#fff" style="font-weight:bold;font-style:italic;" textLength="49.9" lengthAdjust="spacingAndGlyphs">Common</text>
<path d="M651.5 682.5H887.5V940.5H651.5Z" fill="none" stroke="#555" shape-rendering="crispEdges"/>
<path d="M652 704.5H887" stroke="#000"/>
<path d="M652 895.5H887" stroke="#000"/>
<use href="#ia" x="658" y="714"/><use href="#if" x="656" y="719"/>
<text x="681" y="723" textLength="22.8" lengthAdjust="spacingAndGlyphs"><tspan fill="#1e1e1e">id:</tspan><tspan fill="#008080">int</tspan></text>
<use href="#ia" x="658" y="732"/>
<text x="681" y="741" textLength="108.3" lengthAdjust="spacingAndGlyphs"><tspan fill="#1e1e1e">status:</tspan><tspan fill="#008080">Common.Status</tspan></text>
<use href="#ia" x="658" y="750"/>
<text x="681" y="759" textLength="58.6" lengthAdjust="spacingAndGlyphs"><tspan fill="#1e1e1e">_etag:</tspan><tspan fill="#008080">String</tspan></text>
<use href="#ia" x="658" y="768"/>
<text x="681" y="777" textLength="90.6" lengthAdjust="spacingAndGlyphs"><tspan fill="#1e1e1e">_created:</tspan><tspan fill="#008080">DateTime</tspan></text>
<use href="#ia" x="658" y="786"/>
<text x="681" y="795" textLength="92.6" lengthAdjust="spacingAndGlyphs"><tspan fill="#1e1e1e">_updated:</tspan><tspan fill="#008080">DateTime</tspan></text>
<use href="#ia" x="658" y="804"/>
<text x="681" y="813" textLength="65.3" lengthAdjust="spacingAndGlyphs"><tspan fill="#1e1e1e">_deleted:</tspan><tspan fill="#008080">bool</tspan></text>
<use href="#ia" x="658" y="822"/><use href="#il" x="656" y="826"/>
<text x="681" y="831" textLength="67.3" lengthAdjust="spacingAndGlyphs"><tspan fill="#1e1e1e">engine:</tspan><tspan fill="#008080">Engine</tspan></text>
<use href="#ia" x="658" y="840"/>
<text x="681" y="849" textLength="111.8" lengthAdjust="spacingAndGlyphs"><tspan fill="#1e1e1e">status_message:</tspan><tspan fill="#008080">String</tspan></text>
<use href="#ia" x="658" y="858"/><use href="#il" x="656" y="862"/>
<text x="681" y="867" textLength="52.9" lengthAdjust="spacingAndGlyphs"><tspan fill="#1e1e1e">type:</tspan><tspan fill="#008080">String</tspan></text>
<use href="#ia" x="658" y="876"/>
<text x="681" y="885" textLength="81.6" lengthAdjust="spacingAndGlyphs"><tspan fill="#1e1e1e">extras:</tspan><tspan fill="#008080">dictionary</tspan></text>
<use href="#im" x="658" y="904"/>
<text x="681" y="914" style="font-style:italic;" textLength="200.8" lengthAdjust="spacingAndGlyphs"><tspan fill="#1e1e1e" text-decoration="underline">populate(</tspan><tspan fill="#0000ff" text-decoration="underline">in</tspan><tspan fill="#1e1e1e"> </tspan><tspan fill="#1e1e1e" text-decoration="underline">cluster,</tspan><tspan fill="#1e1e1e"> </tspan><tspan fill="#0000ff" text-decoration="underline">in</tspan><tspan fill="#1e1e1e"> </tspan><tspan fill="#1e1e1e" text-decoration="underline">session):</tspan><tspan fill="#008080" text-decoration="underline">Common</tspan></text>
<use href="#im" x="658" y="922"/>
<text x="681" y="932" style="font-style:italic;" textLength="79.6" lengthAdjust="spacingAndGlyphs"><tspan fill="#1e1e1e" text-decoration="underline">resourcename()</tspan></text>
<rect x="921" y="727" width="100" height="174" fill="#fff"/>
<path d="M921.5 727.5H1021.5V901.5H921.5Z" fill="none" stroke="#555"/>
<path d="M922 768.5H1021" stroke="#000"/>
<text x="935" y="740" fill="#808000" textLength="71.2" lengthAdjust="spacingAndGlyphs">«enumeration»</text>
<text x="926" y="787" fill="#800080" textLength="37.1" lengthAdjust="spacingAndGlyphs">ACTIVE</text>
<text x="926" y="805" fill="#800080" textLength="48.3" lengthAdjust="spacingAndGlyphs">ERRORED</text>
<text x="926" y="823" fill="#800080" textLength="64.9" lengthAdjust="spacingAndGlyphs">INPROGRESS</text>
<text x="926" y="841" fill="#800080" textLength="23.3" lengthAdjust="spacingAndGlyphs">NEW</text>
<text x="926" y="859" fill="#800080" textLength="44.2" lengthAdjust="spacingAndGlyphs">DELETED</text>
<text x="926" y="877" fill="#800080" textLength="33.3" lengthAdjust="spacingAndGlyphs">RETRY</text>
<text x="926" y="895" fill="#800080" textLength="43.4" lengthAdjust="spacingAndGlyphs">PENDING</text>
<text x="173" y="53" fill="#000" textLength="56.6" lengthAdjust="spacingAndGlyphs">#snapshots</text>
<text x="236" y="53" fill="#203070" style="font-size:10px">*</text>
<text x="542" y="276" fill="#000" textLength="56.3" lengthAdjust="spacingAndGlyphs">+snapshots</text>
<text x="542" y="296" fill="#203070" style="font-size:10px">*</text>
<text x="610" y="359" fill="#000" textLength="35.2" lengthAdjust="spacingAndGlyphs">+space</text>
<text x="938" y="254" fill="#000" textLength="51.3" lengthAdjust="spacingAndGlyphs">+exposers</text>
<text x="980" y="275" fill="#203070" style="font-size:10px">*</text>
<text x="923" y="463" fill="#000" textLength="51.2" lengthAdjust="spacingAndGlyphs">+templates</text>
<text x="965" y="483" fill="#203070" style="font-size:10px">*</text>
<text x="583" y="477" fill="#000" textLength="35.4" lengthAdjust="spacingAndGlyphs">+profile</text>
<text x="876" y="769" fill="#000" textLength="34.9" lengthAdjust="spacingAndGlyphs">+status</text>
<text x="300" y="459"><tspan fill="#800080">1..</tspan><tspan fill="#203070">*</tspan></text>
<text x="297" y="485" fill="#000" textLength="51.3" lengthAdjust="spacingAndGlyphs">#ilm_steps</text>
<text x="366" y="694" fill="#000" textLength="44.6" lengthAdjust="spacingAndGlyphs">+targetds</text>
<text x="273" y="695" fill="#000" textLength="51.3" lengthAdjust="spacingAndGlyphs">+sourceds</text>
</svg></body></html>
